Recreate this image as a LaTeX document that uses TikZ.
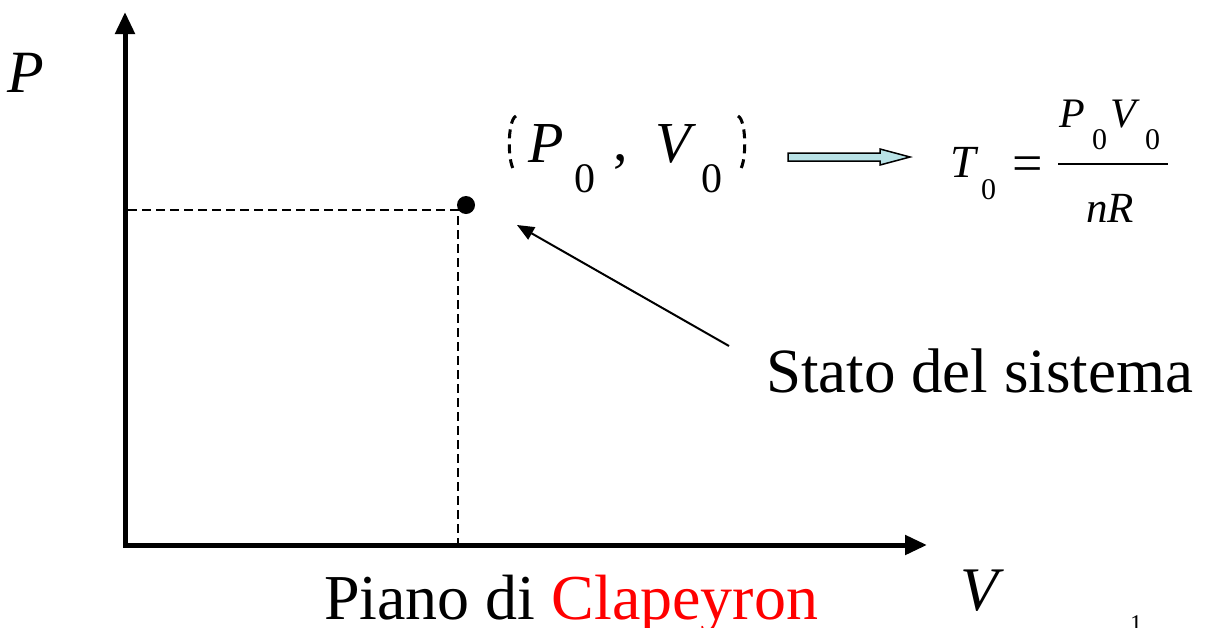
\documentclass[tikz,border=0pt]{standalone}
\usepackage{fontspec}
\setmainfont{Liberation Serif}
\usetikzlibrary{arrows.meta}
\definecolor{arrowcyan}{HTML}{B9E2E6}
\definecolor{clapred}{HTML}{FF0000}
\newcommand{\fsz}[1]{\fontsize{#1}{#1}\selectfont}
\begin{document}
\begin{tikzpicture}[x=1pt,y=-1pt,
  txt/.style={inner sep=0pt, outer sep=0pt, anchor=base west},
  axis/.style={line width=5pt, line join=miter, {Triangle[length=22pt,width=19pt]}-{Triangle[length=22pt,width=19pt]}},
  guide/.style={line width=1.5pt, dash pattern=on 9pt off 5pt},
  pointer/.style={line width=2pt, -{Triangle[length=17pt,width=14pt]}},
  brk/.style={line width=3pt, dash pattern=on 9pt off 6pt}]
\useasboundingbox (0,0) rectangle (1209,627);
% axes
\coordinate (ytip) at (125,12);
\coordinate (xtip) at (927,545);
\draw[axis] (ytip) |- (xtip);
\node[txt] (Plab) at (8,92) {\fsz{60}\itshape P};
\node[txt] (Vlab) at (960,610) {\fsz{62}\itshape V};
% state point
\node[circle, fill=black, inner sep=0pt, minimum size=18pt] (dot) at (466,205) {};
\coordinate (hstart) at (128,210);
\coordinate (vend) at (458,545);
\draw[guide] (hstart) -| (vend);
% (P0 , V0)
\coordinate (lb1) at (516,116); \coordinate (lb2) at (516,172);
\coordinate (rb1) at (738,116); \coordinate (rb2) at (738,172);
\draw[brk] (lb1) .. controls (507,120) and (507,168) .. (lb2);
\draw[brk] (rb1) .. controls (747,120) and (747,168) .. (rb2);
\node[txt] (P0) at (528,162) {\fsz{58}\itshape P};
\node[txt] (P0s) at (574,192) {\fsz{42}0};
\node[txt] (comma) at (613,160) {\fsz{58},};
\node[txt] (V0) at (655,162) {\fsz{58}\itshape V};
\node[txt] (V0s) at (701,192) {\fsz{42}0};
% block arrow
\draw[line width=1.5pt, fill=arrowcyan, line join=miter]
  (788,153) -- (880,153) -- (880,149) -- (910,157) -- (880,165) -- (880,161) -- (788,161) -- cycle;
% formula
\node[txt] (T) at (950,177) {\fsz{46}\itshape T};
\node[txt] (Ts) at (981,199) {\fsz{30}0};
\node[txt] (eq) at (1012,181) {\fsz{54}=};
\draw[line width=2.5pt] (1058,164) -- (1168,164);
\node[txt] (NP) at (1059,127) {\fsz{42}\itshape P};
\node[txt] (NPs) at (1092,149) {\fsz{30}0};
\node[txt] (NV) at (1110,127) {\fsz{42}\itshape V};
\node[txt] (NVs) at (1145,149) {\fsz{30}0};
\node[txt] (nR) at (1086,222) {\fsz{43}\itshape nR};
% label
\node[txt] (stato) at (766,392) {\fsz{63}Stato del sistema};
\coordinate (ptail) at (729,346);
\coordinate (phead) at (517,225);
\draw[pointer] (ptail) -- (phead);
\node[txt] (piano) at (324,619) {\fsz{64}Piano di \textcolor{clapred}{Clapeyron}};
\node[txt] (pagenum) at (1130,631) {\fsz{24}1};
\end{tikzpicture}
\end{document}
